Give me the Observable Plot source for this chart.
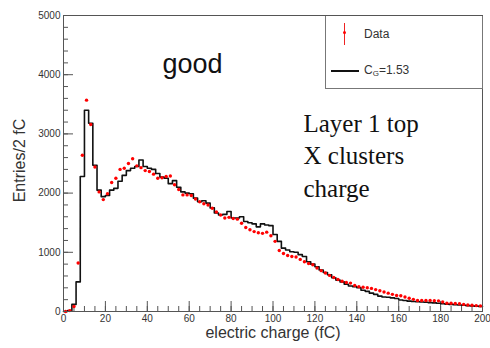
<!DOCTYPE html>
<html><head><meta charset="utf-8">
<script src="https://cdn.jsdelivr.net/npm/d3@7"></script>
<script src="https://cdn.jsdelivr.net/npm/@observablehq/plot@0.6"></script>
<style>
body{margin:0;background:#fff;}
#wrap{position:relative;width:490px;height:348px;overflow:hidden;font-family:"Liberation Sans",Arial,sans-serif;}
#legend{position:absolute;left:325px;top:16px;width:158px;height:73px;border:1px solid #777;border-top:none;background:#fff;box-sizing:border-box;color:#333;font-size:12px;}
#legend .err{position:absolute;left:18px;top:7px;width:1px;height:22px;background:#e22;}
#legend .dot{position:absolute;left:17px;top:15px;width:3px;height:3px;border-radius:50%;background:#f00;}
#legend .ln{position:absolute;left:5px;top:54px;width:28px;height:1.5px;background:#111;}
#legend .t1{position:absolute;left:38px;top:11px;}
#legend .t2{position:absolute;left:38px;top:47px;}
sub{font-size:8px;vertical-align:-2px;}
</style></head><body><div id="wrap"></div>
<script>
const binStarts = d3.range(0, 200, 2);
const mcCounts = [
  0, 15, 120, 500, 2280, 3400, 3180, 2470, 2050, 1940,
  1960, 2050, 2080, 2200, 2300, 2380, 2420, 2450, 2560, 2450,
  2420, 2400, 2330, 2270, 2250, 2160, 2210, 2100, 2020, 2000,
  1990, 1915, 1855, 1870, 1830, 1750, 1665, 1630, 1640, 1690,
  1580, 1580, 1600, 1520, 1500, 1480, 1430, 1480, 1460, 1450,
  1300, 1185, 1070, 1040, 1010, 1000, 960, 930, 840, 800,
  755, 700, 660, 620, 570, 530, 500, 460, 430, 420,
  400, 360, 340, 310, 290, 260, 245, 240, 230, 220,
  195, 185, 175, 170, 165, 160, 155, 150, 145, 140,
  130, 125, 120, 115, 110, 105, 100, 95, 90, 85
];
const dataCounts = [
  0, 15, 85, 820, 2640, 3570, 3160, 2440, 2020, 1890,
  1990, 2180, 2250, 2400, 2420, 2500, 2580, 2460, 2430, 2380,
  2365, 2320, 2250, 2260, 2280, 2290, 2140, 2060, 1970, 1970,
  1960, 1900, 1855, 1820, 1800, 1745, 1680, 1630, 1580, 1590,
  1570, 1560, 1490, 1420, 1380, 1350, 1330, 1320, 1340, 1280,
  1185, 1030, 980, 945, 930, 920, 880, 840, 810, 790,
  735, 690, 650, 610, 575, 540, 510, 490, 480, 440,
  420, 410, 400, 390, 370, 350, 330, 310, 290, 270,
  265, 245, 225, 205, 185, 185, 185, 185, 182, 180,
  160, 140, 140, 135, 130, 120, 110, 105, 100, 95
];
const xTicks = [0, 20, 40, 60, 80, 100, 120, 140, 160, 180, 200];
const xMinor = d3.range(0, 201, 5);
const yTicks = [0, 1000, 2000, 3000, 4000, 5000];
const yMinor = d3.range(0, 5001, 200);
const xLabel = "electric charge (fC)";
const yLabel = "Entries/2 fC";
const note = "good";
const title = "Layer 1 top\nX clusters\ncharge";

const W = 490, H = 348, mL = 63, mR = 8, mT = 15, mB = 37;
const iw = W - mL - mR, ih = H - mT - mB;
const binWidth = 2;
const mcLine = binStarts.map((x, i) => ({x, y: mcCounts[i]}))
  .concat([{x: binStarts[binStarts.length - 1] + binWidth, y: mcCounts[mcCounts.length - 1]}]);
const pts = binStarts.map((x, i) => ({x: x + binWidth / 2, y: dataCounts[i]}));

const plot = Plot.plot({
  width: W, height: H,
  marginLeft: mL, marginRight: mR, marginTop: mT, marginBottom: mB,
  style: {fontFamily: '"Liberation Sans", Arial, sans-serif', fontSize: "10px", color: "#333", background: "#fff", overflow: "visible"},
  x: {domain: [0, 200]},
  y: {domain: [0, 5000]},
  marks: [
    Plot.axisX({ticks: xTicks, tickSize: 0, tickPadding: 3, tickFormat: d => String(d), label: null}),
    Plot.axisY({ticks: yTicks, tickSize: 0, tickPadding: 3, tickFormat: d => String(d), label: null}),
    Plot.tickX(xMinor, {x: d => d, insetTop: ih - 5, stroke: "#555"}),
    Plot.tickX(xTicks, {x: d => d, insetTop: ih - 10, stroke: "#555"}),
    Plot.tickY(yMinor, {y: d => d, insetRight: iw - 5, stroke: "#555"}),
    Plot.tickY(yTicks, {y: d => d, insetRight: iw - 10, stroke: "#555"}),
    Plot.lineY(mcLine, {x: "x", y: "y", curve: "step-after", stroke: "#111", strokeWidth: 1.6}),
    Plot.dot(pts, {x: "x", y: "y", r: 1.7, fill: "#f00", stroke: "none"}),
    Plot.frame({stroke: "#555"}),
    Plot.text([xLabel], {text: d => d, frameAnchor: "bottom", textAnchor: "middle", dy: 26, fontSize: 16, fill: "#333"}),
    Plot.text([yLabel], {text: d => d, frameAnchor: "left", textAnchor: "middle", rotate: -90, dx: -44, dy: -3, fontSize: 16, fill: "#333"}),
    Plot.text([note], {text: d => d, frameAnchor: "top-left", textAnchor: "start", lineAnchor: "top", dx: 99, dy: 38, fontSize: 27, fill: "#111"}),
    Plot.text([title], {text: d => d, frameAnchor: "top-left", textAnchor: "start", lineAnchor: "top", dx: 240, dy: 93, fontSize: 25, lineHeight: 1.3, fontFamily: '"Liberation Serif", "Times New Roman", serif', fill: "#111"})
  ]
});
const wrap = document.getElementById("wrap");
wrap.appendChild(plot);
const leg = document.createElement("div");
leg.id = "legend";
leg.innerHTML = '<div class="err"></div><div class="dot"></div><div class="t1">Data</div><div class="ln"></div><div class="t2">C<sub>G</sub>=1.53</div>';
wrap.appendChild(leg);
</script>
</body></html>
